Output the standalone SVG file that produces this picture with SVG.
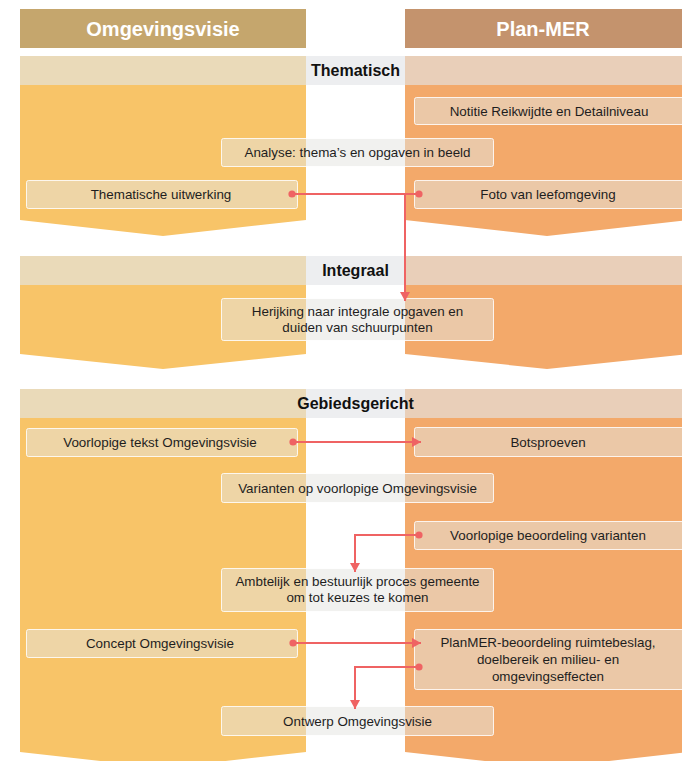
<svg xmlns="http://www.w3.org/2000/svg" width="682" height="761" viewBox="0 0 682 761">
<style>
  .hdr { font-family: "Liberation Sans", Arial, sans-serif; font-size: 20px; font-weight: bold; fill: #ffffff; text-anchor: middle; }
  .band-l { fill: #eadab9; }
  .band-m { fill: #edeef0; }
  .band-r { fill: #e9cfb9; }
  .col-l { fill: #f8c468; }
  .col-r { fill: #f3a96a; }
  .bandtxt { font-family: "Liberation Sans", Arial, sans-serif; font-size: 16px; font-weight: bold; fill: #111111; text-anchor: middle; }
  .box rect { fill: #e4e4e0; fill-opacity: 0.52; stroke: #ffffff; stroke-opacity: 0.85; stroke-width: 1; }
  .box text { font-family: "Liberation Sans", Arial, sans-serif; font-size: 13.4px; fill: #1e1e1e; text-anchor: middle; }
  .conn { fill: none; stroke: #ef6363; stroke-width: 2; }
</style>
<defs>
  <marker id="arrow" markerUnits="userSpaceOnUse" markerWidth="10" markerHeight="10" refX="9" refY="5" orient="auto">
    <path d="M0,0 L9,5 L0,10 z" fill="#ef6363"/>
  </marker>
  <marker id="dot" markerUnits="userSpaceOnUse" markerWidth="8" markerHeight="8" refX="4" refY="4" orient="auto">
    <circle cx="4" cy="4" r="3.6" fill="#ef6363"/>
  </marker>
</defs>

<g id="background">
  <rect x="20" y="9" width="286" height="39" fill="#c5a66d"/>
  <text class="hdr" x="163" y="35.5">Omgevingsvisie</text>
  <rect x="405" y="9" width="277" height="39" fill="#c4936d"/>
  <text class="hdr" x="543" y="35.5">Plan-MER</text>

  <polygon class="col-l" points="20,85 306,85 306,220 163,236 20,220"/>
  <polygon class="col-r" points="405,85 689,85 689,220 547,236 405,220"/>
  <rect class="band-l" x="20" y="56" width="286" height="29"/>
  <rect class="band-m" x="306" y="56" width="99" height="29"/>
  <rect class="band-r" x="405" y="56" width="277" height="29"/>
  <text class="bandtxt" x="355.5" y="76">Thematisch</text>

  <polygon class="col-l" points="20,285 306,285 306,354 163,369 20,354"/>
  <polygon class="col-r" points="405,285 689,285 689,354 547,369 405,354"/>
  <rect class="band-l" x="20" y="256" width="286" height="29"/>
  <rect class="band-m" x="306" y="256" width="99" height="29"/>
  <rect class="band-r" x="405" y="256" width="277" height="29"/>
  <text class="bandtxt" x="355.5" y="276">Integraal</text>

  <polygon class="col-l" points="20,418 306,418 306,752 163,768 20,752"/>
  <polygon class="col-r" points="405,418 689,418 689,752 547,768 405,752"/>
  <rect class="band-l" x="20" y="389" width="286" height="29"/>
  <rect class="band-m" x="306" y="389" width="99" height="29"/>
  <rect class="band-r" x="405" y="389" width="277" height="29"/>
  <text class="bandtxt" x="355.5" y="409">Gebiedsgericht</text>
</g>

<g id="notitie" class="box">
  <rect x="414.5" y="97.5" width="270" height="27" rx="2"/>
  <text x="549" y="115.5">Notitie Reikwijdte en Detailniveau</text>
</g>
<g id="analyse" class="box">
  <rect x="221.5" y="138.5" width="272" height="28" rx="2"/>
  <text x="357.5" y="157">Analyse: thema’s en opgaven in beeld</text>
</g>
<g id="thematische-uitwerking" class="box">
  <rect x="26.5" y="180.5" width="271" height="28" rx="2"/>
  <text x="161" y="199">Thematische uitwerking</text>
</g>
<g id="foto" class="box">
  <rect x="414.5" y="180.5" width="270" height="28" rx="2"/>
  <text x="548" y="199">Foto van leefomgeving</text>
</g>
<g id="herijking" class="box">
  <rect x="221.5" y="298.5" width="272" height="42" rx="2"/>
  <text x="357.5" y="315.5">Herijking naar integrale opgaven en</text>
  <text x="357.5" y="331.5">duiden van schuurpunten</text>
</g>
<g id="voorlopige-tekst" class="box">
  <rect x="26.5" y="428.5" width="271" height="28" rx="2"/>
  <text x="160" y="447">Voorlopige tekst Omgevingsvisie</text>
</g>
<g id="botsproeven" class="box">
  <rect x="414.5" y="427.5" width="270" height="29" rx="2"/>
  <text x="548" y="446.5">Botsproeven</text>
</g>
<g id="varianten" class="box">
  <rect x="221.5" y="473.5" width="272" height="29" rx="2"/>
  <text x="357.5" y="492.5">Varianten op voorlopige Omgevingsvisie</text>
</g>
<g id="voorlopige-beoordeling" class="box">
  <rect x="414.5" y="521.5" width="270" height="28" rx="2"/>
  <text x="548" y="540">Voorlopige beoordeling varianten</text>
</g>
<g id="ambtelijk" class="box">
  <rect x="221.5" y="568.5" width="272" height="43" rx="2"/>
  <text x="357.5" y="585.5">Ambtelijk en bestuurlijk proces gemeente</text>
  <text x="357.5" y="601.5">om tot keuzes te komen</text>
</g>
<g id="concept" class="box">
  <rect x="26.5" y="629.5" width="271" height="28" rx="2"/>
  <text x="160" y="648">Concept Omgevingsvisie</text>
</g>
<g id="planmer" class="box">
  <rect x="414.5" y="629.5" width="270" height="60" rx="2"/>
  <text x="548" y="647">PlanMER-beoordeling ruimtebeslag,</text>
  <text x="548" y="664">doelbereik en milieu- en</text>
  <text x="548" y="681">omgevingseffecten</text>
</g>
<g id="ontwerp" class="box">
  <rect x="221.5" y="706.5" width="272" height="29" rx="2"/>
  <text x="357.5" y="725.5">Ontwerp Omgevingsvisie</text>
</g>

<g id="connectors">
  <path class="conn" d="M292,194 H405 V301" marker-start="url(#dot)" marker-end="url(#arrow)"/>
  <path class="conn" d="M419,194 H405" marker-start="url(#dot)"/>
  <path class="conn" d="M293,442 H421" marker-start="url(#dot)" marker-end="url(#arrow)"/>
  <path class="conn" d="M419,535 H355 V572" marker-start="url(#dot)" marker-end="url(#arrow)"/>
  <path class="conn" d="M293,643 H421" marker-start="url(#dot)" marker-end="url(#arrow)"/>
  <path class="conn" d="M419,667 H355 V709" marker-start="url(#dot)" marker-end="url(#arrow)"/>
</g>
</svg>
